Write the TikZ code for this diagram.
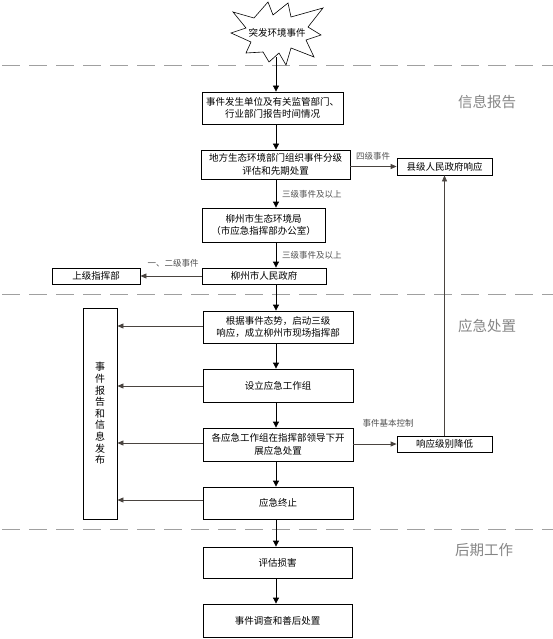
\documentclass[tikz,border=0pt]{standalone}
\usepackage{fontspec}
\setmainfont{Noto Sans CJK SC}
\usetikzlibrary{arrows.meta}
\definecolor{sidec}{HTML}{4A4440}
\definecolor{dashc}{HTML}{A0A0A0}
\definecolor{labc}{HTML}{505050}
\definecolor{secc}{HTML}{858585}
\begin{document}
\begin{tikzpicture}[x=1pt,y=-1pt,
  box/.style={draw,line width=0.8pt,align=center,inner sep=0pt,
    font=\fontsize{9.5}{12.5}\selectfont},
  mainarrow/.style={line width=0.8pt,-{Triangle[length=6pt,width=6pt]}},
  sidearrow/.style={draw=sidec,line width=0.8pt,-{Triangle[length=6pt,width=5pt]},sidec},
  lab/.style={text=labc,font=\fontsize{8.5}{9.5}\selectfont,inner sep=0pt},
  sec/.style={text=secc,font=\fontsize{14.5}{16}\selectfont,inner sep=0pt},
  sep/.style={draw=dashc,line width=1pt,dash pattern=on 18pt off 9pt}]
\useasboundingbox (0,0) rectangle (553,639);
% separators
\draw[sep] (2,66) -- (553,66);
\draw[sep] (2,294) -- (553,294);
\draw[sep] (2,529) -- (553,529);
% star
\draw[line width=0.6pt] (231,33) -- (246,28) -- (233,12) -- (254,18) -- (268,2) -- (273,15)
  -- (288,3) -- (291,17) -- (323,8) -- (308,27) -- (321,35) -- (306,40) -- (314,57)
  -- (291,48) -- (286,65) -- (279,53) -- (269,62) -- (263,52) -- (246,53) -- (251,42) -- cycle;
\node[font=\fontsize{9.5}{10}\selectfont,inner sep=0pt] (star) at (277,33) {突发环境事件};
\coordinate (starbot) at (276,57);
\coordinate (mx) at (276,0);
% boxes
\node[box,minimum width=141pt,minimum height=32pt] (b1) at (272.5,108) {事件发生单位及有关监管部门、\\行业部门报告时间情况};
\node[box,minimum width=149pt,minimum height=29pt] (b2) at (275.5,164.5) {地方生态环境部门组织事件分级\\评估和先期处置};
\node[box,minimum width=95pt,minimum height=17pt] (county) at (444.5,166.5) {县级人民政府响应};
\node[box,minimum width=123pt,minimum height=34pt] (b3) at (263.5,225) {柳州市生态环境局\\（市应急指挥部办公室）};
\node[box,minimum width=124pt,minimum height=16pt] (b4) at (264,276) {柳州市人民政府};
\node[box,minimum width=88pt,minimum height=16pt] (upper) at (96,276) {上级指挥部};
\node[box,minimum width=34pt,minimum height=211pt,font=\fontsize{10}{11.6}\selectfont] (vbox) at (100,413.5) {事\\件\\报\\告\\和\\信\\息\\发\\布};
\node[box,minimum width=150pt,minimum height=32pt] (b5) at (278,327) {根据事件态势，启动三级\\响应，成立柳州市现场指挥部};
\node[box,minimum width=150pt,minimum height=33pt] (b6) at (278,385.5) {设立应急工作组};
\node[box,minimum width=150pt,minimum height=33pt] (b7) at (278,444.5) {各应急工作组在指挥部领导下开\\展应急处置};
\node[box,minimum width=150pt,minimum height=32pt] (b8) at (278,503) {应急终止};
\node[box,minimum width=95pt,minimum height=16pt] (lower) at (444.5,444) {响应级别降低};
\node[box,minimum width=149pt,minimum height=31pt] (b9) at (277.5,562.5) {评估损害};
\node[box,minimum width=149pt,minimum height=33pt] (b10) at (277.5,620.5) {事件调查和善后处置};
% section labels
\node[sec] (s1) at (487,102) {信息报告};
\node[sec] (s2) at (487,326) {应急处置};
\node[sec] (s3) at (484,550) {后期工作};
% main arrows
\draw[mainarrow] (starbot) -- (b1.north -| mx);
\draw[mainarrow] (b1.south -| mx) -- (b2.north -| mx);
\draw[mainarrow] (b2.south -| mx) -- (b3.north -| mx);
\draw[mainarrow] (b3.south -| mx) -- (b4.north -| mx);
\draw[mainarrow] (b4.south -| mx) -- (b5.north -| mx);
\draw[mainarrow] (b5.south -| mx) -- (b6.north -| mx);
\draw[mainarrow] (b6.south -| mx) -- (b7.north -| mx);
\draw[mainarrow] (b7.south -| mx) -- (b8.north -| mx);
\draw[mainarrow] (b8.south -| mx) -- (b9.north -| mx);
\draw[mainarrow] (b9.south -| mx) -- (b10.north -| mx);
\node[lab,anchor=west] (l1) at (282,194) {三级事件及以上};
\node[lab,anchor=west] (l2) at (282,255) {三级事件及以上};
% side arrows
\draw[sidearrow] (b2.east |- county) -- (county.west);
\node[lab] (l3) at (373,156) {四级事件};
\draw[sidearrow] (b4.west) -- (upper.east);
\node[lab] (l4) at (173,263) {一、二级事件};
\coordinate (y5) at (0,326);
\coordinate (y6) at (0,386);
\coordinate (y7) at (0,443);
\coordinate (y8) at (0,500);
\draw[sidearrow] (b5.west |- y5) -- (vbox.east |- y5);
\draw[sidearrow] (b6.west |- y6) -- (vbox.east |- y6);
\draw[sidearrow] (b7.west |- y7) -- (vbox.east |- y7);
\draw[sidearrow] (b8.west |- y8) -- (vbox.east |- y8);
\draw[sidearrow] (b7.east |- lower) -- (lower.west);
\node[lab] (l5) at (388,423) {事件基本控制};
\draw[sidearrow] (lower.north) -- (county.south);
\end{tikzpicture}
\end{document}
